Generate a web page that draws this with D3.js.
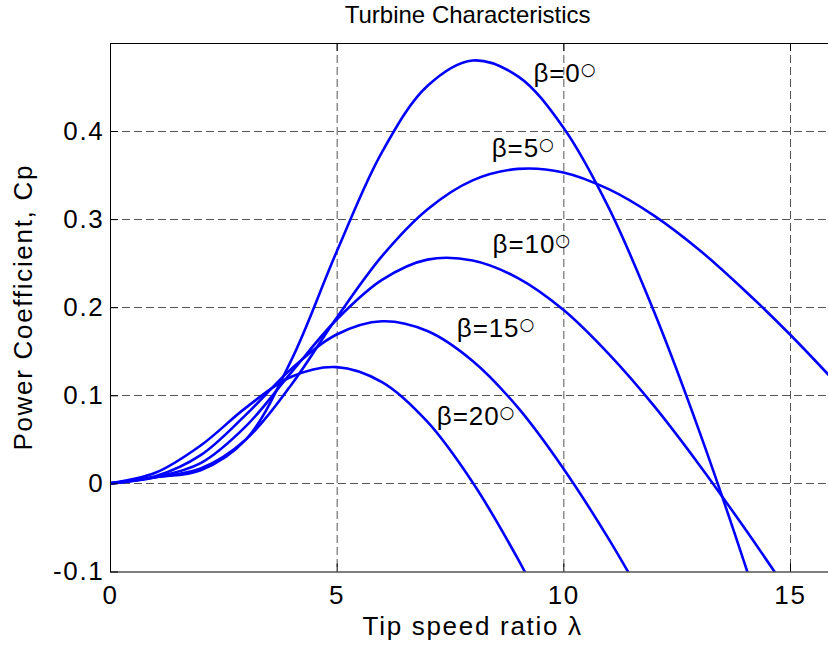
<!DOCTYPE html>
<html>
<head>
<meta charset="utf-8">
<script src="https://cdn.jsdelivr.net/npm/d3@7"></script>
<style>
  body { margin: 0; background: #fff; }
  svg { display: block; }
  text { font-family: "Liberation Sans", Arial, sans-serif; fill: #000; }
</style>
</head>
<body>
<svg id="cp-chart" width="828" height="649"></svg>
<script>
(function(){

  // tip speed ratio samples
  var lambda = [0, 1, 2, 3, 4, 5, 6, 7, 8, 9, 10, 11, 12, 13, 14, 15, 16]

  // Cp, one array per pitch angle
  var cpBeta0  = [0, 0.007, 0.015, 0.050, 0.140, 0.263, 0.376, 0.451, 0.480, 0.462, 0.404, 0.313, 0.195, 0.059, -0.091, -0.253]
  var cpBeta5  = [0, 0.007, 0.017, 0.050, 0.112, 0.188, 0.258, 0.311, 0.344, 0.357, 0.353, 0.334, 0.304, 0.265, 0.219, 0.169, 0.115]
  var cpBeta10 = [0, 0.007, 0.023, 0.065, 0.126, 0.186, 0.231, 0.254, 0.253, 0.233, 0.197, 0.147, 0.088, 0.021, -0.051, -0.126]
  var cpBeta15 = [0, 0.008, 0.032, 0.078, 0.130, 0.169, 0.184, 0.173, 0.139, 0.086, 0.017, -0.063, -0.152]
  var cpBeta20 = [0, 0.012, 0.043, 0.086, 0.121, 0.132, 0.115, 0.070, 0.001, -0.086, -0.186]

  var seriesNames = ['\u03b2=0', '\u03b2=5', '\u03b2=10', '\u03b2=15', '\u03b2=20']
  var seriesValues = [cpBeta0, cpBeta5, cpBeta10, cpBeta15, cpBeta20]
  // where each label sits, in (lambda, Cp) units like matlab text()
  var labelLambda = [9.34, 8.42, 8.44, 7.65, 7.21]
  var labelCp     = [0.456, 0.370, 0.262, 0.166, 0.066]

  var xTicks = [0, 5, 10, 15]
  var yTicks = [-0.1, 0, 0.1, 0.2, 0.3, 0.4]
  var yTickLabels = ['-0.1', '0', '0.1', '0.2', '0.3', '0.4']

  var svg = d3.select('#cp-chart')
  var fontSize = 26
  var spacing = '1.7px'   // matlab's helvetica comes out wider than arial

  var xScale = d3.scaleLinear().domain([0, 15]).range([110, 790])
  var yScale = d3.scaleLinear().domain([-0.1, 0.4]).range([571.5, 131])
  var left = xScale(0), right = xScale(16)
  var top = 43, bottom = yScale(-0.1)

  svg.append('clipPath').attr('id', 'plot-clip')
    .append('rect')
    .attr('x', left).attr('y', top)
    .attr('width', right - left).attr('height', bottom - top)

  // dashed grid
  var grid = svg.append('g').attr('class', 'grid')
    .attr('stroke', '#555').attr('stroke-width', 1).attr('stroke-dasharray', '8,4')
  grid.selectAll('.gx').data(xTicks.filter(d => d > 0)).enter().append('line')
    .attr('x1', d => xScale(d) + 0.5).attr('x2', d => xScale(d) + 0.5)
    .attr('y1', top).attr('y2', bottom)
  grid.selectAll('.gy').data(yTicks.filter(d => d > -0.1)).enter().append('line')
    .attr('x1', left).attr('x2', right)
    .attr('y1', d => Math.round(yScale(d)) + 0.5).attr('y2', d => Math.round(yScale(d)) + 0.5)

  // curves
  var lineGenerator = d3.line()
    .x(d => xScale(d[0]))
    .y(d => yScale(d[1]))
    .curve(d3.curveCatmullRom.alpha(0.5))

  svg.append('g').attr('clip-path', 'url(#plot-clip)')
    .selectAll('path')
    .data(seriesValues)
    .enter().append('path')
    .attr('d', vals => lineGenerator(vals.map((v, i) => [lambda[i], v])))
    .attr('fill', 'none')
    .attr('stroke', '#0000ff')
    .attr('stroke-width', 2.6)
    .attr('stroke-linejoin', 'round')

  // box
  svg.append('rect')
    .attr('x', left + 0.5).attr('y', top + 0.5)
    .attr('width', right - left).attr('height', bottom - top)
    .attr('fill', 'none').attr('stroke', '#000').attr('stroke-width', 1)

  // axes, ticks pointing inward
  svg.append('g').attr('transform', 'translate(0,' + bottom + ')')
    .call(d3.axisBottom(xScale).tickValues(xTicks).tickFormat(d3.format('d'))
      .tickSizeInner(-8).tickSizeOuter(0).tickPadding(14))
  svg.append('g').attr('transform', 'translate(0,' + top + ')')
    .call(d3.axisTop(xScale).tickValues(xTicks).tickFormat('')
      .tickSizeInner(-8).tickSizeOuter(0))
  svg.append('g').attr('transform', 'translate(' + left + ',0)')
    .call(d3.axisLeft(yScale).tickValues(yTicks).tickFormat((d, i) => yTickLabels[i])
      .tickSizeInner(-8).tickSizeOuter(0).tickPadding(5.5))

  svg.selectAll('.domain').remove()
  svg.selectAll('.tick line').attr('stroke', '#000')
  svg.selectAll('.tick text')
    .style('font-family', '"Liberation Sans", Arial, sans-serif')
    .style('font-size', fontSize + 'px')
    .style('letter-spacing', spacing)
    .attr('fill', '#000')

  // curve labels, ring drawn as a thin open circle glyph like tex \circ
  var labels = svg.append('g').selectAll('text')
    .data(seriesNames)
    .enter().append('text')
    .attr('x', (d, i) => xScale(labelLambda[i]))
    .attr('y', (d, i) => yScale(labelCp[i]))
    .style('font-size', fontSize + 'px')
    .style('letter-spacing', '0.9px')
  labels.append('tspan').text(d => d)
  labels.append('tspan').text('\u25cb').attr('dx', 0).attr('dy', -7)
    .style('font-size', '17px').style('letter-spacing', '0px')
    .style('font-family', '"DejaVu Sans", sans-serif')

  // titles
  var midX = (left + right) / 2
  svg.append('text').attr('x', midX - 5).attr('y', 23)
    .attr('text-anchor', 'middle').style('font-size', '24px')
    .text('Turbine Characteristics')
  svg.append('text').attr('x', midX).attr('y', 635)
    .attr('text-anchor', 'middle').style('font-size', fontSize + 'px')
    .style('letter-spacing', spacing)
    .text('Tip speed ratio \u03bb')
  svg.append('text')
    .attr('transform', 'translate(32,' + ((top + bottom) / 2) + ') rotate(-90)')
    .attr('text-anchor', 'middle').style('font-size', fontSize + 'px')
    .style('letter-spacing', spacing)
    .text('Power Coefficient, Cp')

})()
</script>
</body>
</html>
